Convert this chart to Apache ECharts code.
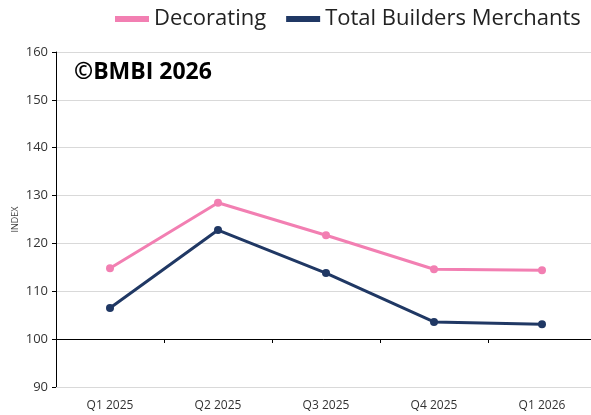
<!DOCTYPE html>
<html>
<head>
<meta charset="utf-8">
<script src="https://cdn.jsdelivr.net/npm/echarts@6/dist/echarts.min.js"></script>
<style>
  html, body { margin: 0; padding: 0; background: #fff; }
  #chart { width: 591px; height: 415px; }
</style>
</head>
<body>
<div id="chart"></div>
<script>
var quarters = ['Q1 2025', 'Q2 2025', 'Q3 2025', 'Q4 2025', 'Q1 2026'];
var decorating = [114.8, 128.5, 121.7, 114.6, 114.4];
var totalBM = [106.5, 122.8, 113.8, 103.6, 103.1];
var yTicks = [90, 160, 10];

var pink = '#f27fb2';
var navy = '#203864';
var fontName = '"Open Sans", "Liberation Sans", sans-serif';

var myChart = echarts.init(document.getElementById('chart'));

var option = {
    animation: false,
    textStyle: { fontFamily: fontName },
    legend: {
        top: 3,
        left: 110,
        itemWidth: 34,
        itemHeight: 6,
        itemGap: 20,
        icon: 'rect',
        textStyle: { fontSize: 22, color: '#222', fontFamily: fontName },
        data: ['Decorating', 'Total Builders Merchants']
    },
    grid: { left: 56, top: 52, width: 540, bottom: 28, outerBoundsMode: 'none' },
    graphic: [{
        type: 'text',
        left: 74,
        top: 61,
        style: {
            text: '©BMBI 2026',
            font: 'bold 23px ' + fontName,
            fill: '#000'
        }
    }],
    xAxis: [{
        type: 'category',
        data: quarters,
        boundaryGap: true,
        axisLine: { show: true, lineStyle: { color: '#d9d9d9' } },
        axisTick: { show: false },
        axisLabel: { color: '#333', fontSize: 12, margin: 13 }
    }, {
        type: 'category',
        data: quarters,
        position: 'bottom',
        offset: -48,
        axisLine: { show: true, lineStyle: { color: '#000', width: 1 } },
        axisTick: { show: true, alignWithLabel: false, length: 4, lineStyle: { color: '#000' } },
        axisLabel: { show: false }
    }],
    yAxis: {
        type: 'value',
        min: yTicks[0],
        max: yTicks[1],
        interval: yTicks[2],
        name: 'INDEX',
        nameLocation: 'middle',
        nameGap: 36,
        nameMoveOverlap: false,
        nameTextStyle: { fontSize: 9, color: '#444' },
        axisLine: { show: true, lineStyle: { color: '#000' } },
        axisTick: { show: true, length: 4, lineStyle: { color: '#000' } },
        axisLabel: { color: '#333', fontSize: 13, margin: 8 },
        splitLine: { lineStyle: { color: '#d9d9d9', width: 1 } }
    },
    series: [{
        name: 'Decorating',
        type: 'line',
        data: decorating,
        symbol: 'circle',
        symbolSize: 8,
        lineStyle: { width: 3, color: pink },
        itemStyle: { color: pink }
    }, {
        name: 'Total Builders Merchants',
        type: 'line',
        data: totalBM,
        symbol: 'circle',
        symbolSize: 8,
        lineStyle: { width: 3, color: navy },
        itemStyle: { color: navy }
    }]
};
myChart.setOption(option);
</script>
</body>
</html>
